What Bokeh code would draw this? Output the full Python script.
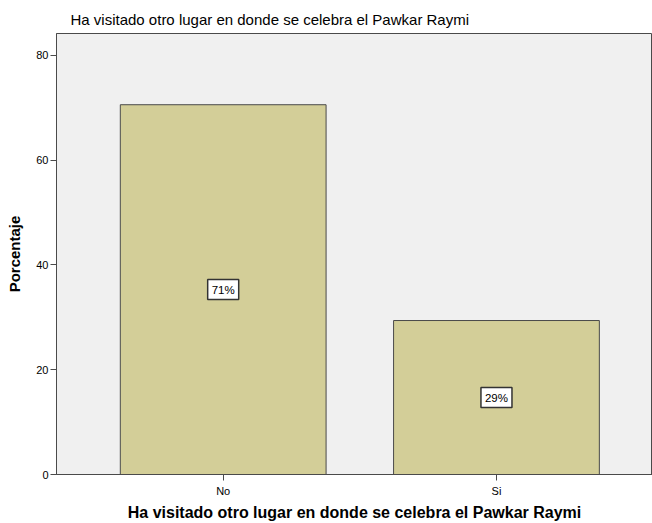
from bokeh.plotting import figure
from bokeh.models import FixedTicker, Range1d, ColumnDataSource, Label
from bokeh.embed import file_html
from bokeh.resources import INLINE

categories = ["No", "Si"]
percentages = [70.6, 29.4]
y_ticks = [0, 20, 40, 60, 80]
title_text = "Ha visitado otro lugar en donde se celebra el Pawkar Raymi"

xs = list(range(len(categories)))
src = ColumnDataSource(dict(x=xs, top=percentages))

p = figure(width=652, height=523, output_backend="svg", toolbar_location=None,
           x_range=Range1d(-0.61, 1.571), y_range=Range1d(0, 84.2),
           min_border_left=56, min_border_right=0, min_border_top=33, min_border_bottom=49)

p.background_fill_color = "#F0F0F0"
p.border_fill_color = "white"
p.outline_line_color = "#4a4a4a"
p.outline_line_width = 1
p.grid.visible = False

p.vbar(x="x", top="top", width=0.753, bottom=0, source=src,
       fill_color="#D3CE98", line_color="#4a4a4a", line_width=1)

for x, v in zip(xs, percentages):
    p.add_layout(Label(x=x, y=v / 2, text="%d%%" % round(v), text_align="center",
                       text_baseline="middle", text_font="Liberation Sans", text_font_size="11.5px",
                       text_color="black", background_fill_color="white",
                       border_line_color="#333333", border_line_width=1.5, padding=4))

p.title.text = title_text
p.title.align = "left"
p.title.offset = 14
p.title.text_font = "Liberation Sans"
p.title.text_font_size = "15px"
p.title.text_font_style = "normal"
p.title.text_color = "black"
p.title.standoff = 12

p.xaxis.ticker = FixedTicker(ticks=xs)
p.xaxis.major_label_overrides = {i: c for i, c in zip(xs, categories)}
p.yaxis.ticker = FixedTicker(ticks=y_ticks)

for ax in (p.xaxis[0], p.yaxis[0]):
    ax.axis_line_color = "#4a4a4a"
    ax.major_tick_line_color = "#4a4a4a"
    ax.major_tick_out = 6
    ax.major_tick_in = 0
    ax.minor_tick_line_color = None
    ax.major_label_text_font = "Liberation Sans"
    ax.major_label_text_font_size = "11px"
    ax.major_label_text_color = "black"
    ax.axis_label_text_font = "Liberation Sans"
    ax.axis_label_text_font_style = "bold"
    ax.axis_label_text_color = "black"

p.xaxis.axis_label = title_text
p.xaxis.axis_label_text_font_size = "16px"
p.xaxis.major_label_standoff = 4
p.xaxis.axis_label_standoff = 4
p.yaxis.axis_label = "Porcentaje"
p.yaxis.axis_label_text_font_size = "15px"
p.yaxis.major_label_standoff = 2
p.yaxis.axis_label_standoff = 10

open("out.html", "w").write(file_html(p, INLINE))
